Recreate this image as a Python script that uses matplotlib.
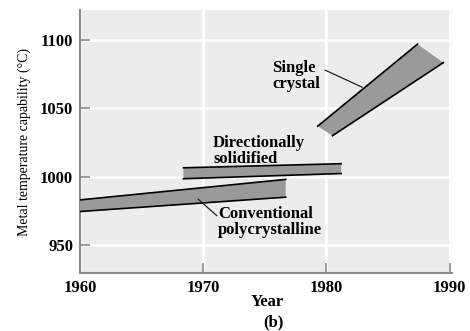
import matplotlib
matplotlib.use("Agg")
import matplotlib.pyplot as plt
from matplotlib.patches import Polygon

# Temperature-capability bands: (year, °C) end points of upper and lower edges
conv_upper_x = [1960.0, 1976.7]
conv_upper_y = [983.0, 998.0]
conv_lower_x = [1960.0, 1976.7]
conv_lower_y = [974.5, 985.0]

ds_upper_x = [1968.4, 1981.2]
ds_upper_y = [1006.5, 1009.5]
ds_lower_x = [1968.4, 1981.2]
ds_lower_y = [998.5, 1002.3]

sx_upper_x = [1979.3, 1987.4]
sx_upper_y = [1037.0, 1097.0]
sx_lower_x = [1980.5, 1989.5]
sx_lower_y = [1030.0, 1083.5]

x_ticks = [1960, 1970, 1980, 1990]
y_ticks = [950, 1000, 1050, 1100]

serif = ["Liberation Serif", "DejaVu Serif"]
plt.rcParams["font.family"] = serif

fig = plt.figure(figsize=(4.70, 3.31), dpi=100)
ax = fig.add_axes([80 / 470, 58 / 331, 372 / 470, 263 / 331])
ax.set_facecolor("#ececec")
ax.set_xlim(1960, 1990.2)
ax.set_ylim(929.5, 1122)

ax.set_xticks(x_ticks)
ax.set_yticks(y_ticks)
ax.grid(True, color="white", linewidth=1.8)
ax.set_axisbelow(True)
ax.tick_params(direction="in", length=7, width=1.2, color="#8a8a8a",
               labelsize=12, pad=5)
for lab in ax.get_xticklabels() + ax.get_yticklabels():
    lab.set_fontweight("bold")
for side in ("top", "right"):
    ax.spines[side].set_visible(False)
for side in ("left", "bottom"):
    ax.spines[side].set_color("#8a8a8a")
    ax.spines[side].set_linewidth(1.5)


def band(ux, uy, lx, ly):
    pts = list(zip(ux, uy)) + list(zip(lx[::-1], ly[::-1]))
    ax.add_patch(Polygon(pts, closed=True, facecolor="#9a9a9a",
                         edgecolor="none", zorder=3))
    ax.plot(ux, uy, color="black", linewidth=1.2, zorder=4)
    ax.plot(lx, ly, color="black", linewidth=1.2, zorder=4)


band(conv_upper_x, conv_upper_y, conv_lower_x, conv_lower_y)
band(ds_upper_x, ds_upper_y, ds_lower_x, ds_lower_y)
band(sx_upper_x, sx_upper_y, sx_lower_x, sx_lower_y)

label_kw = dict(fontsize=12, fontweight="bold", linespacing=1.0,
                ha="left", va="center", zorder=5)
ax.text(1975.6, 1073.5, "Single\ncrystal", **label_kw)
ax.text(1970.8, 1019.0, "Directionally\nsolidified", **label_kw)
ax.text(1971.2, 966.5, "Conventional\npolycrystalline", **label_kw)

# leader lines from labels to bands
ax.plot([1979.9, 1982.9], [1078.0, 1065.5], color="#222222", linewidth=0.9, zorder=5)
ax.plot([1969.6, 1971.1], [983.5, 971.5], color="#222222", linewidth=0.9, zorder=5)

ax.set_ylabel("Metal temperature capability (\u00b0C)", fontsize=10, labelpad=6)
fig.text(267 / 470, 1 - 302 / 331, "Year", ha="center", va="center",
         fontsize=12, fontweight="bold")
fig.text(273 / 470, 1 - 322 / 331, "(b)", ha="center", va="center",
         fontsize=12, fontweight="bold")

fig.savefig("out.png", dpi=100, facecolor="white")
